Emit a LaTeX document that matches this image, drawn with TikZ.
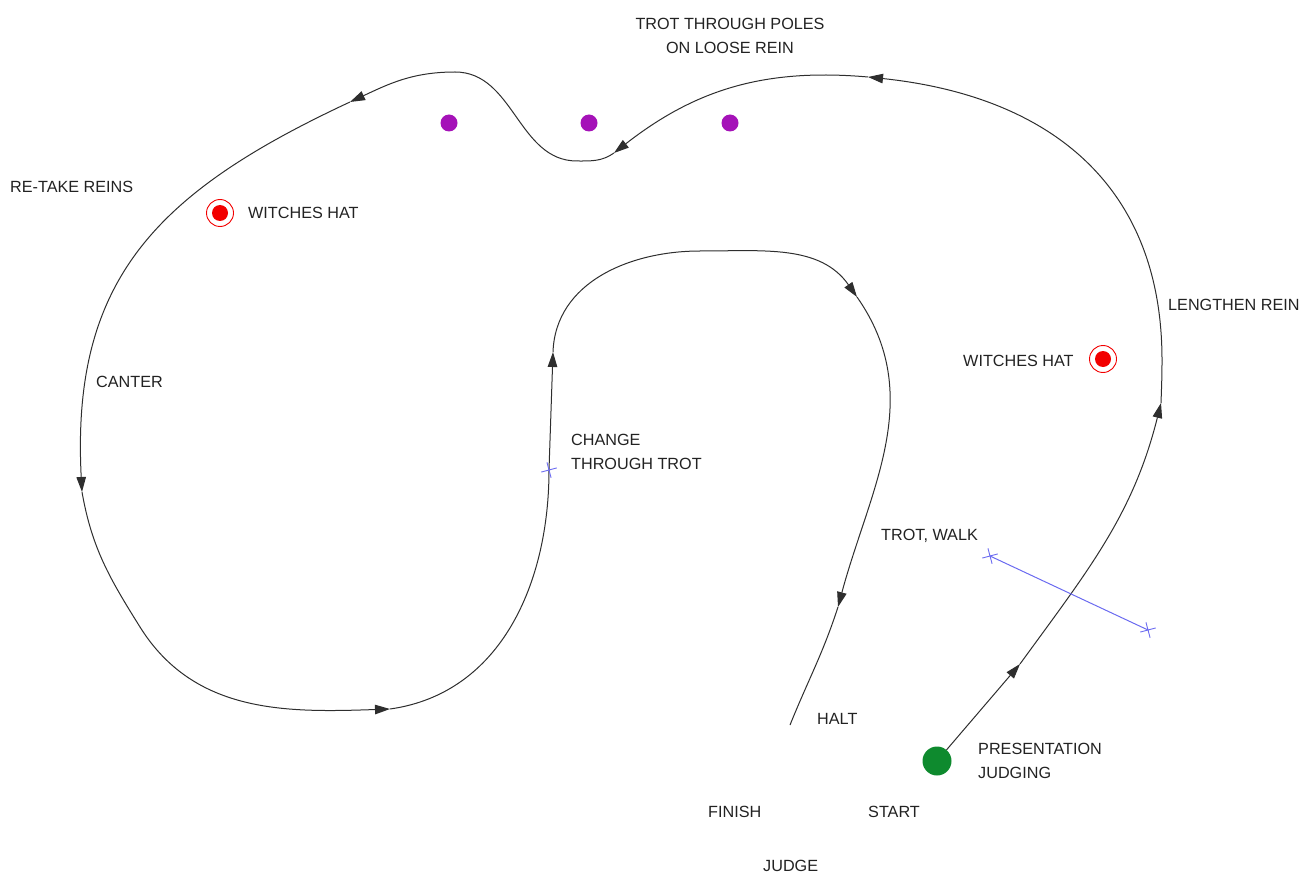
\documentclass[tikz,border=0pt]{standalone}
\usepackage{fontspec}
\setmainfont{Liberation Sans}
\usetikzlibrary{arrows.meta}
\definecolor{trackc}{HTML}{2E2E2E}
\definecolor{textc}{HTML}{222222}
\definecolor{polec}{HTML}{A512B8}
\definecolor{hatc}{HTML}{F20000}
\definecolor{startc}{HTML}{0E8A2E}
\definecolor{markc}{HTML}{6A6AF0}
\begin{document}
\begin{tikzpicture}[x=1pt,y=1pt,
  trk/.style={draw=trackc,line width=1pt},
  arr/.style={-{Triangle[length=15pt,width=9.5pt]}},
  lbl/.style={font=\fontsize{16.2}{23.5}\selectfont,text=textc,inner sep=0pt,anchor=west,align=left},
  pole/.style={circle,fill=polec,minimum size=17pt,inner sep=0pt},
  hatdot/.style={circle,fill=hatc,minimum size=16pt,inner sep=0pt},
  hatring/.style={circle,draw=hatc,line width=0.9pt,minimum size=27pt,inner sep=0pt},
  xmark/.style={draw=markc,line width=0.9pt},
  bluel/.style={draw=markc,line width=1pt}]
\useasboundingbox (0,-877) rectangle (1314,0);

% track points
\node[circle,fill=startc,minimum size=29pt,inner sep=0pt] (G) at (937,-761) {};
\coordinate (A1) at (1020,-664);
\coordinate (A2) at (1161,-403);
\coordinate (R1) at (1162,-360);
\coordinate (A3) at (868,-77);
\coordinate (A4) at (614,-153);
\coordinate (B1) at (577,-161);
\coordinate (P1) at (455,-72);
\coordinate (A5) at (350,-102);
\coordinate (A6) at (82,-492);
\coordinate (W) at (140,-627);
\coordinate (A7) at (390,-709);
\coordinate (X) at (549,-470);
\coordinate (A8) at (553,-352);
\coordinate (T) at (700,-251);
\coordinate (A9) at (857,-297);
\coordinate (A10) at (838,-607);
\coordinate (E) at (790,-725);

% track
\draw[trk,arr] (G) -- (A1);
\draw[trk,arr] (A1) to[out=54,in=256] (A2);
\draw[trk] (A2) to[out=88,in=-90] (R1);
\draw[trk,arr] (R1) to[out=90,in=-6,looseness=1.12] (A3);
\draw[trk,arr] (A3) to[out=175,in=38] (A4);
\draw[trk] (A4) to[out=215,in=0] (B1);
\draw[trk] (B1) to[out=180,in=0] (P1);
\draw[trk,arr] (P1) to[out=180,in=25] (A5);
\draw[trk,arr] (A5) to[out=205,in=93,looseness=1.15] (A6);
\draw[trk] (A6) to[out=-80,in=122] (W);
\draw[trk,arr] (W) to[out=-58,in=182] (A7);
\draw[trk] (A7) to[out=8,in=-90] (X);
\draw[trk,arr] (X) -- (A8);
\draw[trk] (A8) to[out=88,in=180] (T);
\draw[trk,arr] (T) to[out=0,in=125] (A9);
\draw[trk,arr] (A9) to[out=-55,in=75] (A10);
\draw[trk] (A10) to[out=-108,in=68] (E);

% crosses
\draw[xmark,rotate around={15:(X)}] ([xshift=-8pt]X) -- ([xshift=8pt]X) ([yshift=-8pt]X) -- ([yshift=8pt]X);
\coordinate (L1) at (990,-556);
\coordinate (L2) at (1148,-630);
\draw[bluel] (L1) -- (L2);
\draw[xmark,rotate around={15:(L1)}] ([xshift=-8pt]L1) -- ([xshift=8pt]L1) ([yshift=-8pt]L1) -- ([yshift=8pt]L1);
\draw[xmark,rotate around={15:(L2)}] ([xshift=-8pt]L2) -- ([xshift=8pt]L2) ([yshift=-8pt]L2) -- ([yshift=8pt]L2);

% poles
\node[pole] (p1) at (449,-123) {};
\node[pole] (p2) at (589,-123) {};
\node[pole] (p3) at (730,-123) {};

% witches hats
\node[hatring] (h1) at (220,-213) {};
\node[hatdot] at (h1) {};
\node[hatring] (h2) at (1103,-359) {};
\node[hatdot] at (h2) {};

% labels
\node[lbl,anchor=center,align=center] (tp) at (730,-36) {TROT THROUGH POLES\\ON LOOSE REIN};
\node[lbl] (rr) at (10,-187) {RE-TAKE REINS};
\node[lbl] (wh1) at (248,-213) {WITCHES HAT};
\node[lbl] (ca) at (96,-382) {CANTER};
\node[lbl] (ct) at (571,-452) {CHANGE\\THROUGH TROT};
\node[lbl] (lr) at (1168,-305) {LENGTHEN REIN};
\node[lbl] (wh2) at (963,-361) {WITCHES HAT};
\node[lbl] (tw) at (881,-536) {TROT, WALK};
\node[lbl] (ha) at (817,-719) {HALT};
\node[lbl] (pj) at (978,-761) {PRESENTATION\\JUDGING};
\node[lbl] (fi) at (708,-812) {FINISH};
\node[lbl] (st) at (868,-812) {START};
\node[lbl] (ju) at (763,-866) {JUDGE};
\end{tikzpicture}
\end{document}
